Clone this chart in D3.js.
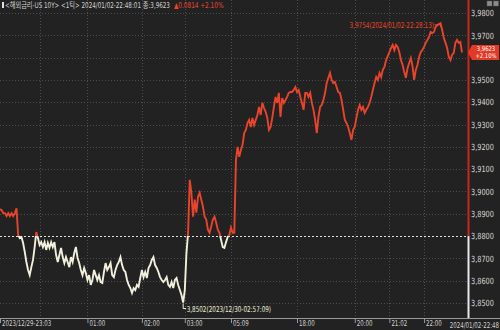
<!DOCTYPE html>
<html>
<head>
<meta charset="utf-8">
<script src="https://cdn.jsdelivr.net/npm/d3@7"></script>
<style>
body { margin: 0; background: #222222; }
svg { display: block; }
text { font-family: "Liberation Sans Narrow", "DejaVu Sans Condensed", "Noto Sans CJK KR", sans-serif; }
</style>
</head>
<body>
<svg width="500" height="330"></svg>
<script>
// US 10Y tick prices, oldest first (one entry per tick step on the x axis)
const prices = [
  3.8921, 3.8916, 3.8903, 3.8903, 3.8890, 3.8903, 3.8890, 3.8903, 3.8890, 3.8903,
  3.8925, 3.8805, 3.8791, 3.8796, 3.8769, 3.8729, 3.8684, 3.8648, 3.8625, 3.8661,
  3.8693, 3.8751, 3.8818, 3.8791, 3.8760, 3.8773, 3.8751, 3.8773, 3.8738, 3.8769,
  3.8747, 3.8773, 3.8751, 3.8773, 3.8715, 3.8684, 3.8715, 3.8747, 3.8706, 3.8679,
  3.8706, 3.8684, 3.8661, 3.8706, 3.8684, 3.8724, 3.8751, 3.8702, 3.8679, 3.8648,
  3.8625, 3.8657, 3.8634, 3.8603, 3.8625, 3.8581, 3.8603, 3.8648, 3.8625, 3.8603,
  3.8625, 3.8594, 3.8590, 3.8639, 3.8679, 3.8648, 3.8661, 3.8679, 3.8625, 3.8616,
  3.8648, 3.8670, 3.8684, 3.8706, 3.8670, 3.8648, 3.8639, 3.8603, 3.8581, 3.8567,
  3.8545, 3.8567, 3.8558, 3.8581, 3.8572, 3.8612, 3.8648, 3.8616, 3.8639, 3.8612,
  3.8657, 3.8670, 3.8693, 3.8706, 3.8670, 3.8657, 3.8639, 3.8616, 3.8603, 3.8594,
  3.8603, 3.8616, 3.8581, 3.8572, 3.8594, 3.8567, 3.8603, 3.8612, 3.8581, 3.8558,
  3.8536, 3.8502, 3.8558, 3.8724, 3.8815, 3.9052, 3.8994, 3.8887, 3.8963, 3.8905,
  3.8976, 3.8994, 3.8963, 3.8932, 3.8887, 3.8874, 3.8829, 3.8815, 3.8843, 3.8874,
  3.8887, 3.8861, 3.8829, 3.8815, 3.8782, 3.8751, 3.8747, 3.8773, 3.8796, 3.8806,
  3.8838, 3.8815, 3.8815, 3.9141, 3.9200, 3.9155, 3.9186, 3.9209, 3.9262, 3.9276,
  3.9307, 3.9321, 3.9289, 3.9330, 3.9298, 3.9321, 3.9343, 3.9379, 3.9343, 3.9397,
  3.9374, 3.9357, 3.9330, 3.9276, 3.9289, 3.9330, 3.9379, 3.9424, 3.9397, 3.9442,
  3.9334, 3.9419, 3.9397, 3.9410, 3.9424, 3.9442, 3.9446, 3.9446, 3.9455, 3.9468,
  3.9446, 3.9455, 3.9424, 3.9397, 3.9366, 3.9442, 3.9442, 3.9424, 3.9442, 3.9397,
  3.9366, 3.9321, 3.9262, 3.9334, 3.9379, 3.9388, 3.9410, 3.9442, 3.9486, 3.9509,
  3.9531, 3.9500, 3.9486, 3.9491, 3.9468, 3.9446, 3.9442, 3.9410, 3.9366, 3.9321,
  3.9307, 3.9289, 3.9262, 3.9231, 3.9276, 3.9289, 3.9330, 3.9366, 3.9388, 3.9366,
  3.9379, 3.9352, 3.9366, 3.9379, 3.9397, 3.9424, 3.9455, 3.9486, 3.9513, 3.9500,
  3.9531, 3.9513, 3.9545, 3.9558, 3.9589, 3.9607, 3.9625, 3.9643, 3.9657, 3.9634,
  3.9657, 3.9648, 3.9625, 3.9589, 3.9567, 3.9536, 3.9509, 3.9553, 3.9576, 3.9598,
  3.9562, 3.9500, 3.9545, 3.9567, 3.9603, 3.9625, 3.9634, 3.9648, 3.9666, 3.9679,
  3.9692, 3.9715, 3.9710, 3.9715, 3.9737, 3.9746, 3.9750, 3.9754, 3.9724, 3.9688,
  3.9666, 3.9643, 3.9603, 3.9589, 3.9612, 3.9621, 3.9666, 3.9679, 3.9666, 3.9670,
  3.9623
]

// x axis: tick-step index of each time label
const timeTicks = [0, 53, 86, 112, 140, 180, 215, 236, 257]
const timeLabels = ['2023/12/29-23:03', '01:00', '02:00', '03:00', '05:09', '18:00', '20:00', '21:02', '22:00']
const dayBreaks = [24]  // midnight divider, no label
const lastTime = '2024/01/02-22:48'

const priceTicks = [3.85, 3.86, 3.87, 3.88, 3.89, 3.90, 3.91, 3.92, 3.93, 3.94, 3.95, 3.96, 3.97, 3.98]
const prevClose = 3.88
const change = 0.0814
const changePct = 2.10
const highTime = '2024/01/02-22:28:13'
const lowTime = '2023/12/30-02:57:09'
const header = '<해외금리-US 10Y> <1틱> 2024/01/02-22:48:01 종:'

const RED = '#e8442c'
const WHITE = '#f2f0dc'
const LABEL = '#d2d2d2'

const svg = d3.select('svg')
const plotW = 468, plotBottom = 318

const x = d3.scaleLinear().domain([0, prices.length - 1]).range([0, 462])
const y = d3.scaleLinear().domain([3.85, 3.98]).range([303, 13])
const fmt = v => d3.format('.4f')(v).replace('.', ',')

// the chart's bitmap font is much narrower than anything installed:
// scale text horizontally around its anchor point
function squeeze(sel, k) {
  sel.each(function () {
    const ax = +this.getAttribute('x') || 0
    d3.select(this).attr('transform', `translate(${ax * (1 - k)},0) scale(${k},1)`)
  })
}

// grid
svg.append('g')
  .selectAll('line')
  .data(priceTicks.filter(d => d !== prevClose))
  .enter()
  .append('line')
  .attr('x1', 0).attr('x2', plotW)
  .attr('y1', d => Math.round(y(d)) + 0.5).attr('y2', d => Math.round(y(d)) + 0.5)
  .attr('stroke', '#4d4d4d')
  .attr('stroke-dasharray', '1,2')

svg.append('g')
  .selectAll('line')
  .data(timeTicks.slice(1).concat(dayBreaks))
  .enter()
  .append('line')
  .attr('x1', d => Math.round(x(d)) + 0.5).attr('x2', d => Math.round(x(d)) + 0.5)
  .attr('y1', 0).attr('y2', plotBottom)
  .attr('stroke', '#4d4d4d')
  .attr('stroke-dasharray', '1,2')

// price line: red above previous close, white below
const yBase = y(prevClose)
const defs = svg.append('defs')
defs.append('clipPath').attr('id', 'above')
  .append('rect').attr('x', 0).attr('y', 0).attr('width', plotW).attr('height', yBase)
defs.append('clipPath').attr('id', 'below')
  .append('rect').attr('x', 0).attr('y', yBase).attr('width', plotW).attr('height', plotBottom - yBase)

const line = d3.line()
  .x((d, i) => x(i))
  .y(d => y(d))

svg.append('path')
  .datum(prices)
  .attr('clip-path', 'url(#above)')
  .attr('fill', 'none')
  .attr('stroke', RED)
  .attr('stroke-width', 1.9)
  .attr('d', line)

svg.append('path')
  .datum(prices)
  .attr('clip-path', 'url(#below)')
  .attr('fill', 'none')
  .attr('stroke', WHITE)
  .attr('stroke-width', 1.9)
  .attr('d', line)

// previous close line
svg.append('line')
  .attr('x1', 0).attr('x2', plotW)
  .attr('y1', Math.round(yBase) + 0.5).attr('y2', Math.round(yBase) + 0.5)
  .attr('stroke', '#e0e0e0')
  .attr('stroke-dasharray', '2,2')

// right price axis
svg.append('line')
  .attr('x1', plotW + 0.5).attr('x2', plotW + 0.5)
  .attr('y1', 0).attr('y2', yBase)
  .attr('stroke', '#c8281c').attr('stroke-width', 2)
svg.append('line')
  .attr('x1', plotW + 0.5).attr('x2', plotW + 0.5)
  .attr('y1', yBase).attr('y2', plotBottom)
  .attr('stroke', '#e8e8e8').attr('stroke-width', 2)

const yAxis = svg.append('g')
  .attr('transform', `translate(${plotW + 1}, 0)`)
  .call(d3.axisRight(y).tickValues(priceTicks.filter(d => Math.abs(d - prices[prices.length - 1]) > 0.004))
    .tickSize(0).tickPadding(2).tickFormat(fmt))
yAxis.select('.domain').remove()
yAxis.selectAll('text').attr('fill', LABEL).attr('font-size', 8.5).call(squeeze, 0.86)

// bottom time axis
svg.append('line')
  .attr('x1', 0).attr('x2', 500)
  .attr('y1', plotBottom + 0.5).attr('y2', plotBottom + 0.5)
  .attr('stroke', '#9a9a9a')

const xAxis = svg.append('g')
  .attr('transform', `translate(0, ${plotBottom})`)
  .call(d3.axisBottom(x).tickValues(timeTicks).tickSize(5).tickPadding(0)
    .tickFormat((d, i) => timeLabels[i]))
xAxis.select('.domain').remove()
xAxis.selectAll('line').attr('stroke', '#9a9a9a')
xAxis.selectAll('text')
  .attr('fill', LABEL)
  .attr('font-size', 8)
  .attr('text-anchor', 'start')
  .attr('x', 1.5)
  .attr('y', 2)
  .call(squeeze, 0.76)
xAxis.append('text')
  .attr('x', 499).attr('y', 10)
  .attr('text-anchor', 'end')
  .attr('fill', LABEL)
  .attr('font-size', 8)
  .text(lastTime)
  .call(squeeze, 0.76)

// high / low markers
const hi = d3.maxIndex(prices), lo = d3.minIndex(prices)
svg.append('path')
  .attr('d', `M${x(hi) - 6},${y(prices[hi]) + 1.5}H${x(hi)}V${y(prices[hi]) + 4}`)
  .attr('fill', 'none').attr('stroke', RED)
svg.append('text')
  .attr('x', x(hi) - 6.5).attr('y', y(prices[hi]) + 4.5)
  .attr('text-anchor', 'end')
  .attr('fill', RED)
  .attr('font-size', 8)
  .text(`${fmt(prices[hi])}(${highTime})`)
  .call(squeeze, 0.79)

svg.append('path')
  .attr('d', `M${x(lo)},${y(prices[lo]) + 1}V${y(prices[lo]) + 6}H${x(lo) + 3}`)
  .attr('fill', 'none').attr('stroke', WHITE)
svg.append('text')
  .attr('x', x(lo) + 3.5).attr('y', y(prices[lo]) + 9)
  .attr('fill', WHITE)
  .attr('font-size', 8)
  .text(`${fmt(prices[lo])}(${lowTime})`)
  .call(squeeze, 0.79)

// last price tag
const last = prices[prices.length - 1]
const yl = y(last)
svg.append('path')
  .attr('d', `M${plotW},${yl}L${plotW + 4},${yl - 7.5}H499V${yl + 7.5}H${plotW + 4}Z`)
  .attr('fill', '#e23a26')
svg.append('g')
  .selectAll('text')
  .data([fmt(last), `+${changePct.toFixed(2)}%`])
  .enter()
  .append('text')
  .attr('x', 486)
  .attr('y', (d, i) => yl - 1 + i * 7)
  .attr('text-anchor', 'middle')
  .attr('fill', '#ffffff')
  .attr('font-size', 6.5)
  .text(d => d)
  .call(squeeze, 0.9)

// header
svg.append('rect').attr('x', 2).attr('y', 2).attr('width', 2).attr('height', 6).attr('fill', '#e0e0e0')
const title = svg.append('text')
  .attr('x', 5).attr('y', 8)
  .attr('font-size', 8)
  .attr('fill', '#d4d4d4')
  .text(header + fmt(last))
  .call(squeeze, 0.78)
svg.append('text')
  .attr('x', 5 + title.node().getComputedTextLength() * 0.78 + 4).attr('y', 8)
  .attr('font-size', 8)
  .attr('fill', RED)
  .text(`▲${change.toFixed(4)} +${changePct.toFixed(2)}%`)
  .call(squeeze, 0.8)

// window buttons, top right
svg.append('g')
  .selectAll('rect')
  .data([0, 1])
  .enter()
  .append('rect')
  .attr('x', (d, i) => 487 + i * 6.5)
  .attr('y', 1)
  .attr('width', 5)
  .attr('height', 5)
  .attr('fill', '#8c8c8c')
  .attr('stroke', '#5a5a5a')
  .attr('stroke-width', 0.5)
</script>
</body>
</html>
